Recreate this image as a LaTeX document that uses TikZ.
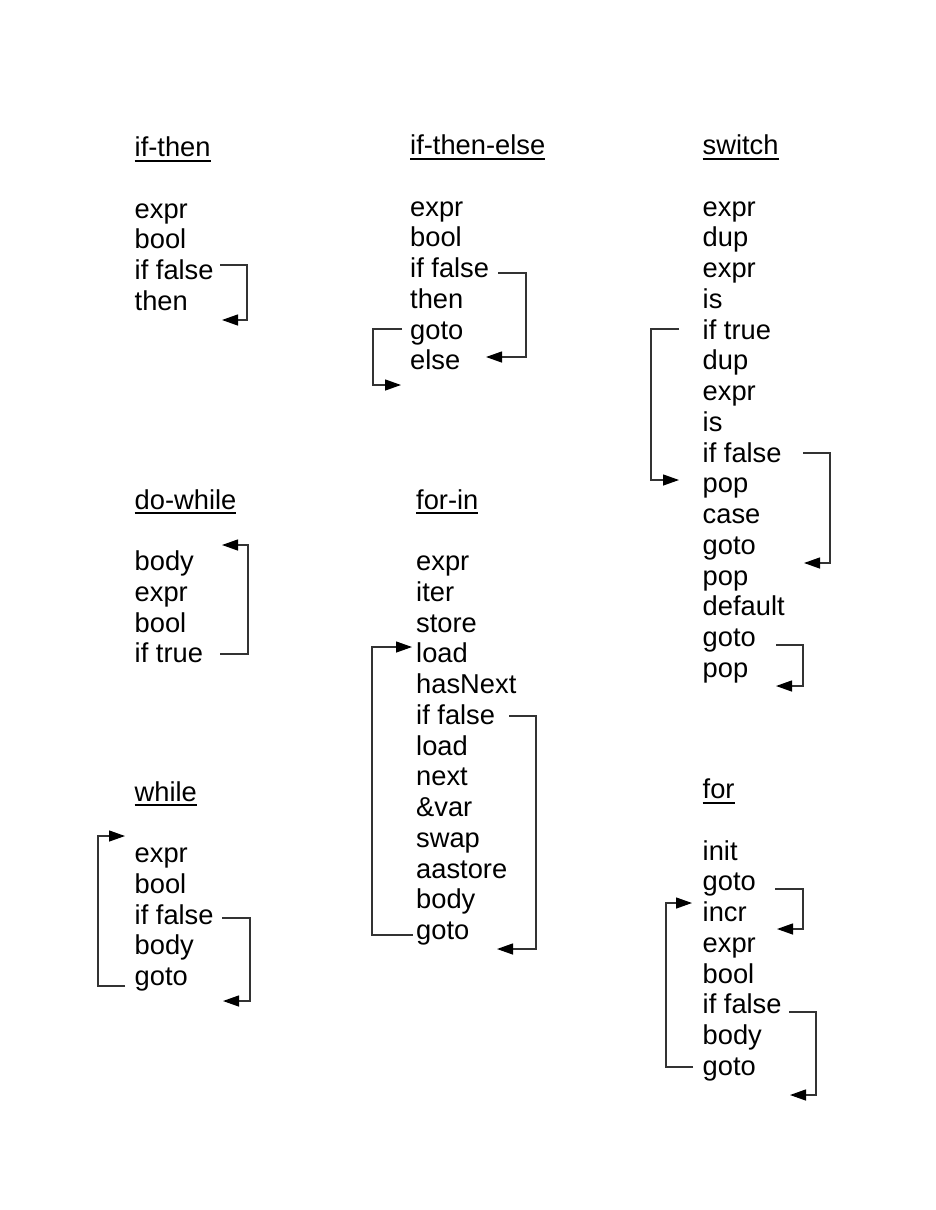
\documentclass[tikz,border=0pt]{standalone}
\usepackage{fontspec}
\setmainfont{Liberation Sans}
\usetikzlibrary{arrows.meta}
\newcommand\hdul[1]{{\setbox0\hbox{#1}\rlap{\rule[-5pt]{\wd0}{2pt}}\box0}}
\tikzset{
  txt/.style={anchor=base west, inner sep=0pt, font=\fontsize{27.3}{30.75}\selectfont},
  hd/.style={txt},
  jmp/.style={draw=black!80, line width=1.3pt, -{Triangle[length=16pt 0,width=11pt 0,color=black,fill=black]}, line join=miter},
}
\begin{document}
\begin{tikzpicture}[x=1pt,y=-1pt]
\useasboundingbox[fill=white] (0,0) rectangle (935,1210);
% if-then
\node[hd] (h1) at (134.5,156.7) {\hdul{if-then}};
\foreach \t [count=\i] in {expr,bool,if false,then}
  \node[txt] (a\i) at (134.5,218+30.75*\i-30.75) {\t};
% if-then-else
\node[hd] (h2) at (410,154.5) {\hdul{if-then-else}};
\foreach \t [count=\i] in {expr,bool,if false,then,goto,else}
  \node[txt] (b\i) at (410,216+30.75*\i-30.75) {\t};
% switch
\node[hd] (h3) at (702.5,154.5) {\hdul{switch}};
\foreach \t [count=\i] in {expr,dup,expr,is,if true,dup,expr,is,if false,pop,case,goto,pop,default,goto,pop}
  \node[txt] (c\i) at (702.5,216+30.75*\i-30.75) {\t};
% do-while
\node[hd] (h4) at (134.5,509.3) {\hdul{do-while}};
\foreach \t [count=\i] in {body,expr,bool,if true}
  \node[txt] (d\i) at (134.5,570.7+30.75*\i-30.75) {\t};
% for-in
\node[hd] (h5) at (416,509.3) {\hdul{for-in}};
\foreach \t [count=\i] in {expr,iter,store,load,hasNext,if false,load,next,\&var,swap,aastore,body,goto}
  \node[txt] (e\i) at (416,570.7+30.75*\i-30.75) {\t};
% while
\node[hd] (h6) at (134.5,801) {\hdul{while}};
\foreach \t [count=\i] in {expr,bool,if false,body,goto}
  \node[txt] (f\i) at (134.5,862.7+30.75*\i-30.75) {\t};
% for
\node[hd] (h7) at (702.5,798.7) {\hdul{for}};
\foreach \t [count=\i] in {init,goto,incr,expr,bool,if false,body,goto}
  \node[txt] (g\i) at (702.5,860+30.75*\i-30.75) {\t};

% connector points
\coordinate (a3s) at (220,265); \coordinate (a3c) at (247,265);
\coordinate (a4c) at (247,320); \coordinate (a4e) at (222,320);
\draw[jmp] (a3s) -- (a3c) -- (a4c) -- (a4e);

\coordinate (b3s) at (498,273); \coordinate (b3c) at (526,273);
\coordinate (b6c) at (526,357); \coordinate (b6e) at (486,357);
\draw[jmp] (b3s) -- (b3c) -- (b6c) -- (b6e);
\coordinate (b5s) at (402,329); \coordinate (b5c) at (373,329);
\coordinate (b7c) at (373,385); \coordinate (b7e) at (401,385);
\draw[jmp] (b5s) -- (b5c) -- (b7c) -- (b7e);

\coordinate (c5s) at (679,329); \coordinate (c5c) at (651,329);
\coordinate (c10c) at (651,480); \coordinate (c10e) at (679,480);
\draw[jmp] (c5s) -- (c5c) -- (c10c) -- (c10e);
\coordinate (c9s) at (803,453); \coordinate (c9c) at (830,453);
\coordinate (c12c) at (830,563); \coordinate (c12e) at (804,563);
\draw[jmp] (c9s) -- (c9c) -- (c12c) -- (c12e);
\coordinate (c15s) at (776,645); \coordinate (c15c) at (803,645);
\coordinate (c16c) at (803,686); \coordinate (c16e) at (776,686);
\draw[jmp] (c15s) -- (c15c) -- (c16c) -- (c16e);

\coordinate (d4s) at (220,654); \coordinate (d4c) at (248,654);
\coordinate (d1c) at (248,545); \coordinate (d1e) at (222,545);
\draw[jmp] (d4s) -- (d4c) -- (d1c) -- (d1e);

\coordinate (e13s) at (413,935); \coordinate (e13c) at (372,935);
\coordinate (e4c) at (372,647); \coordinate (e4e) at (412,647);
\draw[jmp] (e13s) -- (e13c) -- (e4c) -- (e4e);
\coordinate (e6s) at (509,716); \coordinate (e6c) at (536,716);
\coordinate (e14c) at (536,949); \coordinate (e14e) at (497,949);
\draw[jmp] (e6s) -- (e6c) -- (e14c) -- (e14e);

\coordinate (f5s) at (125,986); \coordinate (f5c) at (98,986);
\coordinate (f0c) at (98,836); \coordinate (f0e) at (125,836);
\draw[jmp] (f5s) -- (f5c) -- (f0c) -- (f0e);
\coordinate (f3s) at (222,918); \coordinate (f3c) at (250,918);
\coordinate (f6c) at (250,1001); \coordinate (f6e) at (223,1001);
\draw[jmp] (f3s) -- (f3c) -- (f6c) -- (f6e);

\coordinate (g2s) at (775,889); \coordinate (g2c) at (803,889);
\coordinate (g3c) at (803,929); \coordinate (g3e) at (777,929);
\draw[jmp] (g2s) -- (g2c) -- (g3c) -- (g3e);
\coordinate (g8s) at (693,1067); \coordinate (g8c) at (666,1067);
\coordinate (g3cc) at (666,903); \coordinate (g3ee) at (692,903);
\draw[jmp] (g8s) -- (g8c) -- (g3cc) -- (g3ee);
\coordinate (g6s) at (789,1012); \coordinate (g6c) at (816,1012);
\coordinate (g9c) at (816,1095); \coordinate (g9e) at (790,1095);
\draw[jmp] (g6s) -- (g6c) -- (g9c) -- (g9e);
\end{tikzpicture}
\end{document}
